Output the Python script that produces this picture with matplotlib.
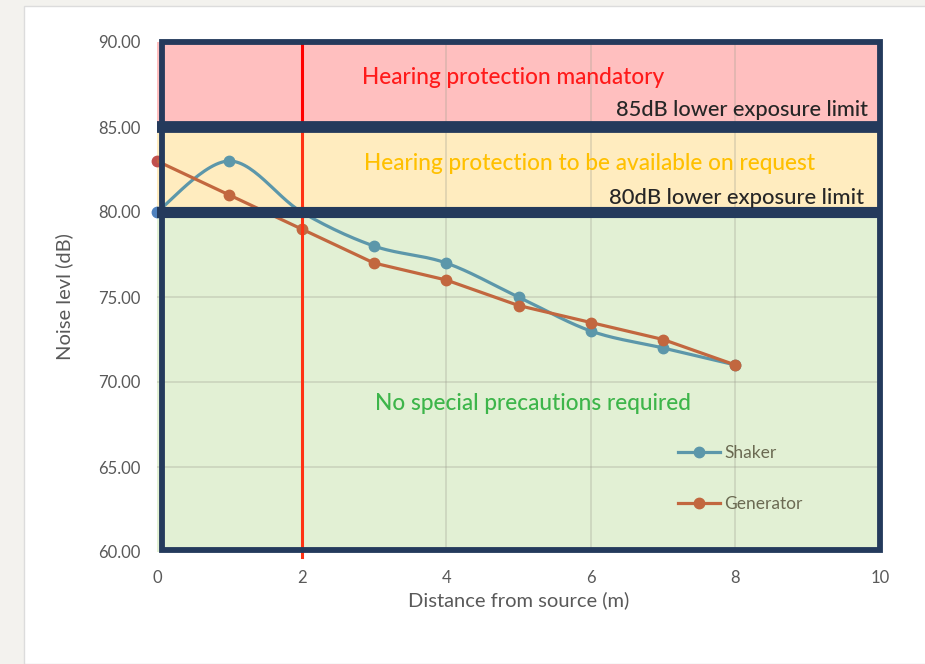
import numpy as np
import matplotlib
matplotlib.use("Agg")
import matplotlib.pyplot as plt
from matplotlib.patches import Rectangle
from matplotlib.lines import Line2D

plt.rcParams['font.family'] = ['Lato', 'DejaVu Sans']

# ---------------- data ----------------
distance = [0, 1, 2, 3, 4, 5, 6, 7, 8]
shaker = [80, 83, 80, 78, 77, 75, 73, 72, 71]
generator = [83, 81, 79, 77, 76, 74.5, 73.5, 72.5, 71]

x_ticks = [0, 2, 4, 6, 8, 10]
y_ticks = [60, 65, 70, 75, 80, 85, 90]
limit_low = 80
limit_high = 85
boundary_x = 2

zone_labels = ["Hearing protection mandatory",
               "Hearing protection to be available on request",
               "No special precautions required"]
limit_labels = ["85dB lower exposure limit", "80dB lower exposure limit"]

# ---------------- styling ----------------
NAVY = '#243a5c'
SHAKER_C = '#5c97aa'
GEN_C = '#c2673f'
TICK_C = '#595959'
ZFS = 16.3


def excel_smooth(xs, ys, n=30):
    P = np.column_stack([xs, ys]).astype(float)
    out = [P[0]]
    m = len(P)
    for i in range(m - 1):
        p0 = P[i - 1] if i > 0 else P[i]
        p1 = P[i]
        p2 = P[i + 1]
        p3 = P[i + 2] if i + 2 < m else P[i + 1]
        c1 = p1 + (p2 - p0) / 6.0
        c2 = p2 - (p3 - p1) / 6.0
        t = np.linspace(0, 1, n)[1:, None]
        seg = ((1 - t) ** 3) * p1 + 3 * ((1 - t) ** 2) * t * c1 + 3 * (1 - t) * t ** 2 * c2 + t ** 3 * p2
        out.extend(seg)
    out = np.array(out)
    return out[:, 0], out[:, 1]


fig = plt.figure(figsize=(9.25, 6.64), dpi=100)
fig.patch.set_facecolor('#f3f2ee')
# white panel
panel = Rectangle((24 / 925, 0.0), 1.0, (664 - 6) / 664, transform=fig.transFigure,
                  facecolor='white', edgecolor='#dcdcdc', linewidth=1.0, zorder=-10)
fig.add_artist(panel)

ax = fig.add_axes([157 / 925, (664 - 552) / 664, 723 / 925, 510 / 664])
ax.set_zorder(1)
ax.set_xlim(0, 10)
ax.set_ylim(60, 90)
ax.set_facecolor('none')
for s in ax.spines.values():
    s.set_visible(False)

# zones
ax.axhspan(limit_high, 90, color='#ffbfbf', zorder=0, lw=0)
ax.axhspan(limit_low, limit_high, color='#ffecbf', zorder=0, lw=0)
ax.axhspan(60, limit_low, color='#e2f0d4', zorder=0, lw=0)

# grid
for xv in x_ticks[1:-1]:
    ax.axvline(xv, color='#a0a090', alpha=0.35, lw=1.2, zorder=0.5)
for yv in y_ticks[1:-1]:
    ax.axhline(yv, color='#a0a090', alpha=0.35, lw=1.2, zorder=0.5)

# data lines
sx, sy = excel_smooth(distance, shaker)
ax.plot(sx, sy, color=SHAKER_C, lw=2.3, zorder=2, solid_capstyle='round')
ax.plot(distance[1:], shaker[1:], 'o', color=SHAKER_C, ms=7.5, zorder=2)
ax.plot(distance, generator, color=GEN_C, lw=2.3, zorder=2)
ax.plot(distance[1:], generator[1:], 'o', color=GEN_C, ms=7.5, zorder=2)
# first points (different marker colours, partly hidden by frame)
ax.plot(distance[0], shaker[0], 'o', color='#4f81bd', ms=7.5, zorder=1.5, clip_on=False)
ax.plot(distance[0], generator[0], 'o', color='#c0504d', ms=7.5, zorder=1.5, clip_on=False)

# boundary line
ax.plot([boundary_x, boundary_x], [59.7, limit_high], color='#ff3214', lw=2.2, zorder=3, clip_on=False)
ax.plot([boundary_x, boundary_x], [limit_high, 90], color='#ff0000', lw=2.2, zorder=3)

# navy frame + separators
ax.add_patch(Rectangle((0.07, 60.1), 10 - 0.07, 29.9, fill=False, edgecolor=NAVY, lw=4.2,
                       zorder=4, clip_on=False))
ax.axhline(limit_high, xmin=0.007, xmax=1.0, color=NAVY, lw=8.5, zorder=4)
ax.axhline(limit_low, xmin=0.007, xmax=1.0, color=NAVY, lw=8, zorder=4)

# zone texts
ax.text(4.92, 87.9, zone_labels[0], color='#ff1a1a', fontsize=ZFS, fontweight='medium',
        ha='center', va='center', zorder=5)
ax.text(9.83, 86.0, limit_labels[0], color='#262626', fontsize=ZFS - 0.6, fontweight='medium',
        ha='right', va='center', zorder=5)
ax.text(5.98, 82.88, zone_labels[1], color='#ffc000', fontsize=ZFS, fontweight='medium',
        ha='center', va='center', zorder=5)
ax.text(9.78, 80.8, limit_labels[1], color='#262626', fontsize=ZFS - 0.5, fontweight='medium',
        ha='right', va='center', zorder=5)
ax.text(5.20, 68.76, zone_labels[2], color='#3db54a', fontsize=ZFS, fontweight='medium',
        ha='center', va='center', zorder=5)

# legend
handles = [Line2D([], [], color=SHAKER_C, lw=2.3, marker='o', ms=7.5),
           Line2D([], [], color=GEN_C, lw=2.3, marker='o', ms=7.5)]
leg = ax.legend(handles, ['Shaker', 'Generator'], loc='upper left', bbox_to_anchor=(0.7205, 0.2095),
                frameon=False, fontsize=12.5, handlelength=2.4, handletextpad=0.25,
                labelspacing=2.0, borderpad=0, borderaxespad=0)
for t in leg.get_texts():
    t.set_color('#6b6a52')
leg.set_zorder(5)

# ticks
ax.set_xticks(x_ticks)
ax.set_yticks(y_ticks)
ax.set_yticklabels([f"{v:.2f}" for v in y_ticks])
ax.tick_params(axis='both', length=0, labelsize=12, colors=TICK_C)
ax.tick_params(axis='y', pad=12)
ax.tick_params(axis='x', pad=13)

ax.set_xlabel('Distance from source (m)', fontsize=14.5, color=TICK_C, labelpad=4)
ax.set_ylabel('Noise levl (dB)', fontsize=14.5, color=TICK_C, labelpad=18)

fig.savefig('out.png', dpi=100, facecolor=fig.get_facecolor())
